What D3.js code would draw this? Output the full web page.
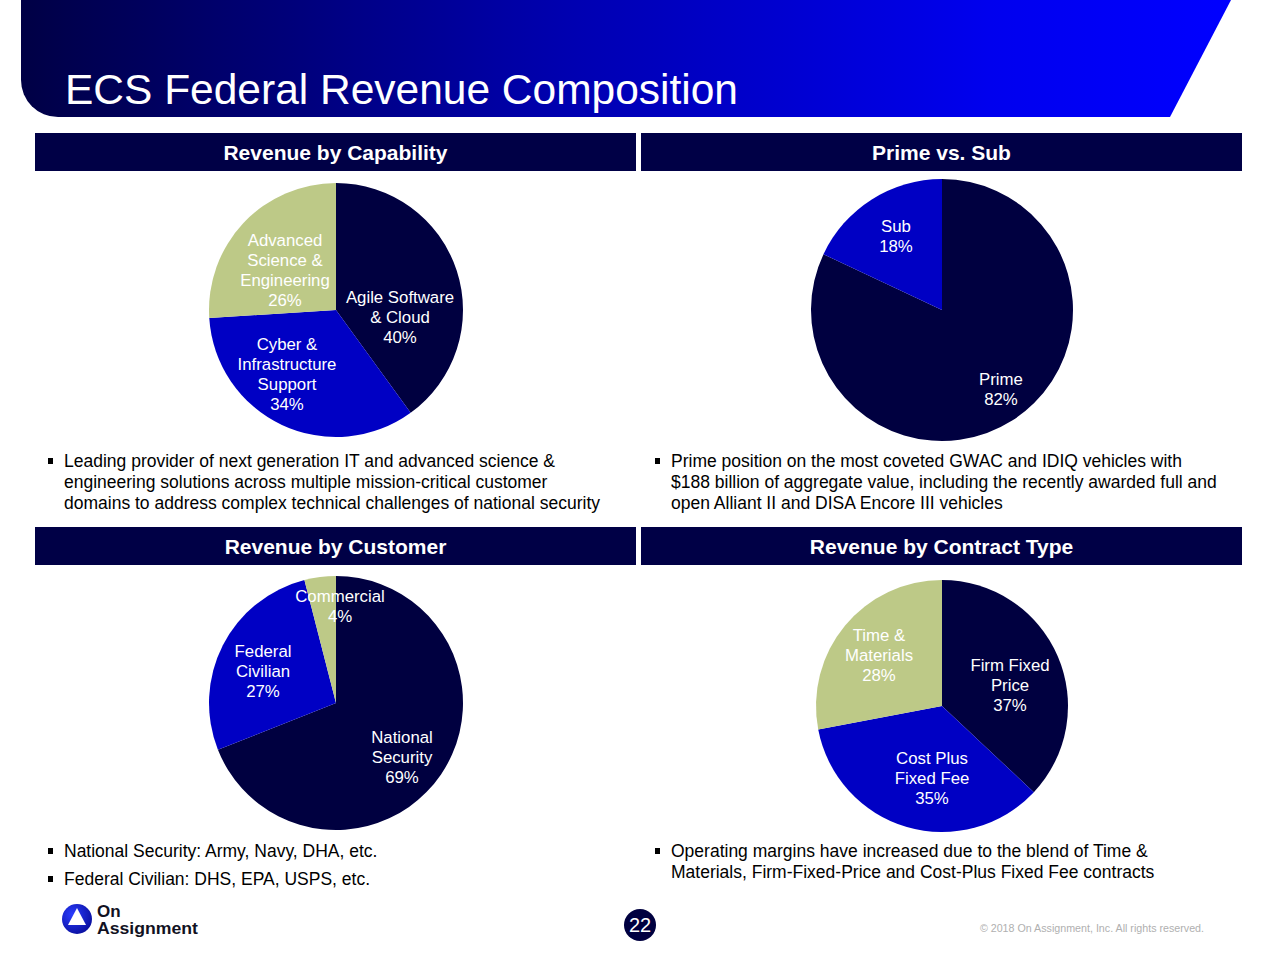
<!DOCTYPE html>
<html>
<head>
<meta charset="utf-8">
<script src="https://cdn.jsdelivr.net/npm/d3@7"></script>
<style>
  html, body { margin: 0; padding: 0; background: #fff; }
  svg { display: block; font-family: "Liberation Sans", Arial, Helvetica, sans-serif; }
</style>
</head>
<body>
<svg id="chart" width="1280" height="960"></svg>
<script>
// ---------------- DATA ----------------
const titleText = "ECS Federal Revenue Composition";

const capabilityCategories = ["Agile Software & Cloud", "Cyber & Infrastructure Support", "Advanced Science & Engineering"];
const capabilityValues = [40, 34, 26];

const primeSubCategories = ["Prime", "Sub"];
const primeSubValues = [82, 18];

const customerCategories = ["National Security", "Federal Civilian", "Commercial"];
const customerValues = [69, 27, 4];

const contractCategories = ["Firm Fixed Price", "Cost Plus Fixed Fee", "Time & Materials"];
const contractValues = [37, 35, 28];

const panelTitles = ["Revenue by Capability", "Prime vs. Sub", "Revenue by Customer", "Revenue by Contract Type"];

const bulletsCapability = [["Leading provider of next generation IT and advanced science &",
  "engineering solutions across multiple mission-critical customer",
  "domains to address complex technical challenges of national security"]];
const bulletsPrime = [["Prime position on the most coveted GWAC and IDIQ vehicles with",
  "$188 billion of aggregate value, including the recently awarded full and",
  "open Alliant II and DISA Encore III vehicles"]];
const bulletsCustomer = [["National Security: Army, Navy, DHA, etc."], ["Federal Civilian: DHS, EPA, USPS, etc."]];
const bulletsContract = [["Operating margins have increased due to the blend of Time &",
  "Materials, Firm-Fixed-Price and Cost-Plus Fixed Fee contracts"]];

// ---------------- STYLE / LAYOUT ----------------
const NAVY = "#000040";
const BAR = "#000046";
const BLUE = "#0000C4";
const GREEN = "#BDC987";

const svg = d3.select("#chart");
const defs = svg.append("defs");

// Title banner gradient
const grad = defs.append("linearGradient").attr("id", "bannerGrad")
  .attr("x1", "0%").attr("x2", "100%").attr("y1", "0%").attr("y2", "0%");
grad.append("stop").attr("offset", "0%").attr("stop-color", "#000045");
grad.append("stop").attr("offset", "45%").attr("stop-color", "#0000b0");
grad.append("stop").attr("offset", "80%").attr("stop-color", "#0000ee");
grad.append("stop").attr("offset", "100%").attr("stop-color", "#0000ff");

const bannerPath = d3.path();
bannerPath.moveTo(21, 0);
bannerPath.lineTo(1231, 0);
bannerPath.lineTo(1170, 117);
bannerPath.lineTo(58, 117);
bannerPath.arcTo(21, 117, 21, 80, 37);
bannerPath.closePath();
svg.append("path").attr("d", bannerPath.toString()).attr("fill", "url(#bannerGrad)");

svg.append("text").attr("x", 65).attr("y", 104)
  .attr("fill", "#fff").attr("font-size", 42)
  .attr("textLength", 673).attr("lengthAdjust", "spacingAndGlyphs")
  .text(titleText);

// Panel header bars
const bars = [
  {x: 35, y: 133, w: 601, title: panelTitles[0]},
  {x: 641, y: 133, w: 601, title: panelTitles[1]},
  {x: 35, y: 527, w: 601, title: panelTitles[2]},
  {x: 641, y: 527, w: 601, title: panelTitles[3]}
];
bars.forEach(b => {
  svg.append("rect").attr("x", b.x).attr("y", b.y).attr("width", b.w).attr("height", 38).attr("fill", BAR);
  svg.append("text").attr("x", b.x + b.w / 2).attr("y", b.y + 27)
    .attr("text-anchor", "middle").attr("fill", "#fff")
    .attr("font-size", 21).attr("font-weight", "bold").text(b.title);
});

// Pies
const pieGen = d3.pie().sort(null).value(d => d);

function drawPie(cfg) {
  const g = svg.append("g").attr("transform", `translate(${cfg.cx},${cfg.cy})`);
  const arcs = pieGen(cfg.values);
  const arcGen = d3.arc().innerRadius(0).outerRadius(cfg.r);
  g.selectAll("path.slice").data(arcs).enter().append("path")
    .attr("class", "slice")
    .attr("d", arcGen)
    .attr("fill", (d, i) => cfg.colors[i]);
  arcs.forEach((a, i) => {
    const lines = cfg.lines[i].concat([cfg.values[i] + "%"]);
    const pos = cfg.labelPos[i];
    const lh = 20;
    const startY = pos[1] - (lines.length - 1) * lh / 2;
    const t = g.append("text").attr("text-anchor", "middle").attr("fill", "#fff").attr("font-size", 16.8);
    lines.forEach((ln, k) => {
      t.append("tspan").attr("x", pos[0]).attr("y", startY + k * lh + 6).text(ln);
    });
  });
}

drawPie({cx: 336, cy: 310, r: 127, values: capabilityValues,
  colors: [NAVY, BLUE, GREEN],
  lines: [["Agile Software", "& Cloud"], ["Cyber &", "Infrastructure", "Support"], ["Advanced", "Science &", "Engineering"]],
  labelPos: [[64, 7], [-49, 64], [-51, -40]]});

drawPie({cx: 942, cy: 310, r: 131, values: primeSubValues,
  colors: [NAVY, BLUE],
  lines: [["Prime"], ["Sub"]],
  labelPos: [[59, 79], [-46, -74]]});

drawPie({cx: 336, cy: 703, r: 127, values: customerValues,
  colors: [NAVY, BLUE, GREEN],
  lines: [["National", "Security"], ["Federal", "Civilian"], ["Commercial"]],
  labelPos: [[66, 54], [-73, -32], [4, -97]]});

drawPie({cx: 942, cy: 706, r: 126, values: contractValues,
  colors: [NAVY, BLUE, GREEN],
  lines: [["Firm Fixed", "Price"], ["Cost Plus", "Fixed Fee"], ["Time &", "Materials"]],
  labelPos: [[68, -21], [-10, 72], [-63, -51]]});

// Bullets
function drawBullets(items, x, y0, lineH, gap) {
  let y = y0;
  items.forEach(lines => {
    svg.append("rect").attr("x", x).attr("y", y - 9).attr("width", 5).attr("height", 6).attr("fill", "#000");
    lines.forEach((ln, k) => {
      svg.append("text").attr("x", x + 16).attr("y", y + k * lineH)
        .attr("font-size", 17.5).attr("fill", "#000").text(ln);
    });
    y += lines.length * lineH + gap;
  });
}
drawBullets(bulletsCapability, 48, 467, 21, 0);
drawBullets(bulletsPrime, 655, 467, 21, 0);
drawBullets(bulletsCustomer, 48, 857, 21, 7);
drawBullets(bulletsContract, 655, 857, 21, 0);

// Footer: logo
const lg = defs.append("radialGradient").attr("id", "logoGrad").attr("cx", "35%").attr("cy", "35%").attr("r", "70%");
lg.append("stop").attr("offset", "0%").attr("stop-color", "#2a3cff");
lg.append("stop").attr("offset", "100%").attr("stop-color", "#0a10a0");
svg.append("circle").attr("cx", 77).attr("cy", 919).attr("r", 15).attr("fill", "url(#logoGrad)");
svg.append("path").attr("d", "M77,908 L86,925 L68,925 Z").attr("fill", "#fff");
svg.append("text").attr("x", 97).attr("y", 917).attr("font-size", 17).attr("fill", "#111122")
  .attr("font-weight", "bold").text("On");
svg.append("text").attr("x", 97).attr("y", 934).attr("font-size", 17).attr("fill", "#111122")
  .attr("font-weight", "bold")
  .attr("textLength", 101).attr("lengthAdjust", "spacingAndGlyphs").text("Assignment");

// Page number
svg.append("circle").attr("cx", 640).attr("cy", 925).attr("r", 16).attr("fill", NAVY);
svg.append("text").attr("x", 640).attr("y", 932).attr("text-anchor", "middle")
  .attr("font-size", 20).attr("fill", "#fff").text("22");

// Copyright
svg.append("text").attr("x", 1204).attr("y", 932).attr("text-anchor", "end")
  .attr("font-size", 10.7).attr("fill", "#b0b0b0").text("© 2018 On Assignment, Inc. All rights reserved.");
</script>
</body>
</html>
